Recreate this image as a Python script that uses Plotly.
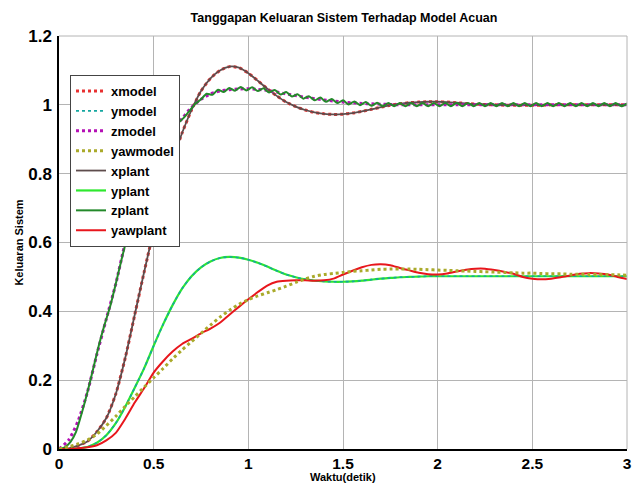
import plotly.graph_objects as go

# time grids
t = [round(0.05 * i, 2) for i in range(61)]
tz = [round(0.03 * i, 2) for i in range(101)]

xplant = [0, 0.002, 0.01, 0.022, 0.05, 0.09, 0.16, 0.265, 0.39, 0.515,
          0.635, 0.745, 0.84, 0.918, 0.985, 1.04, 1.077, 1.1, 1.111, 1.108,
          1.092, 1.07, 1.047, 1.026, 1.008, 0.995, 0.985, 0.978, 0.974, 0.972,
          0.973, 0.976, 0.981, 0.987, 0.993, 0.999, 1.003, 1.006, 1.008, 1.009,
          1.009, 1.008, 1.006, 1.004, 1.002, 1.001, 1.0, 0.999, 0.999, 0.999,
          0.999, 0.999, 1.0, 1.0, 1.0, 1.0, 1.0, 1.0, 1.0, 1.0, 1.0]
xmodel = list(xplant)

yplant = [0, 0, 0.002, 0.006, 0.018, 0.04, 0.075, 0.123, 0.178, 0.235,
          0.3, 0.362, 0.418, 0.466, 0.502, 0.528, 0.545, 0.555, 0.558, 0.556,
          0.55, 0.541, 0.53, 0.518, 0.507, 0.499, 0.493, 0.489, 0.487, 0.486,
          0.486, 0.487, 0.489, 0.492, 0.495, 0.497, 0.499, 0.5, 0.501, 0.502,
          0.502, 0.502, 0.502, 0.502, 0.502, 0.502, 0.502, 0.502, 0.502, 0.502,
          0.502, 0.502, 0.502, 0.502, 0.502, 0.502, 0.502, 0.502, 0.502, 0.502, 0.502]
ymodel = list(yplant)

zplant = [0, 0.005, 0.02, 0.05, 0.104, 0.165, 0.232, 0.3, 0.36, 0.414,
          0.48, 0.55, 0.615, 0.675, 0.73, 0.778, 0.818, 0.853, 0.883, 0.908,
          0.93, 0.948, 0.963, 0.983, 1.003, 1.016, 1.032, 1.029, 1.044, 1.037,
          1.049, 1.041, 1.052, 1.042, 1.051, 1.040, 1.048, 1.036, 1.043, 1.030,
          1.037, 1.024, 1.031, 1.018, 1.025, 1.013, 1.021, 1.009, 1.017, 1.005,
          1.013, 1.001, 1.010, 0.999, 1.008, 0.997, 1.006, 0.996, 1.005, 0.996,
          1.005, 0.996, 1.005, 0.996, 1.005, 0.996, 1.005, 0.996, 1.005, 0.996,
          1.005, 0.996, 1.005, 0.996, 1.005, 0.996, 1.005, 0.996, 1.005, 0.996,
          1.005, 0.996, 1.005, 0.996, 1.005, 0.996, 1.005, 0.996, 1.005, 0.996,
          1.005, 0.996, 1.005, 0.996, 1.005, 0.996, 1.005, 0.996, 1.005, 0.996, 1.004]
zmodel = [0, 0.025, 0.08, 0.165, 0.275, 0.378, 0.48, 0.6, 0.7, 0.78,
          0.845, 0.895, 0.93, 0.96, 0.993, 1.016, 1.032, 1.04, 1.044, 1.046,
          1.047, 1.045, 1.042, 1.037, 1.032, 1.027, 1.022, 1.018, 1.014, 1.011,
          1.008, 1.006, 1.004, 1.003, 1.002, 1.001, 1.0, 1.0, 1.0, 1.0,
          1.0, 1.0, 1.0, 1.0, 1.0, 1.0, 1.0, 1.0, 1.0, 1.0,
          1.0, 1.0, 1.0, 1.0, 1.0, 1.0, 1.0, 1.0, 1.0, 1.0, 1.0]

yawplant = [0, 0, 0.002, 0.005, 0.011, 0.025, 0.047, 0.088, 0.135, 0.177,
            0.222, 0.255, 0.283, 0.305, 0.32, 0.336, 0.35, 0.367, 0.39, 0.413,
            0.435, 0.456, 0.475, 0.486, 0.489, 0.49, 0.49, 0.489, 0.49, 0.495,
            0.507, 0.518, 0.528, 0.535, 0.537, 0.534, 0.526, 0.519, 0.512, 0.508,
            0.507, 0.51, 0.516, 0.521, 0.524, 0.524, 0.52, 0.515, 0.509, 0.5,
            0.495, 0.493, 0.495, 0.499, 0.504, 0.509, 0.511, 0.51, 0.507, 0.5, 0.494]
yawmodel = [0, 0.006, 0.015, 0.026, 0.043, 0.068, 0.095, 0.124, 0.152, 0.18,
            0.207, 0.234, 0.262, 0.288, 0.312, 0.336, 0.36, 0.383, 0.403, 0.42,
            0.434, 0.445, 0.454, 0.463, 0.473, 0.484, 0.494, 0.502, 0.507, 0.51,
            0.513, 0.516, 0.518, 0.52, 0.522, 0.523, 0.523, 0.523, 0.522, 0.521,
            0.52, 0.519, 0.518, 0.517, 0.516, 0.515, 0.514, 0.513, 0.512, 0.511,
            0.511, 0.51, 0.509, 0.509, 0.508, 0.508, 0.507, 0.507, 0.506, 0.506, 0.505]

x_ticks = [0, 0.5, 1, 1.5, 2, 2.5, 3]
x_ticklabels = ["0", "0.5", "1", "1.5", "2", "2.5", "3"]
y_ticks = [0, 0.2, 0.4, 0.6, 0.8, 1.0, 1.2]
y_ticklabels = ["0", "0.2", "0.4", "0.6", "0.8", "1", "1.2"]

FONT = "Liberation Sans, Arial, sans-serif"
OFF = 8  # default page body margin in the browser
W, H = 640 - OFF, 483 - OFF
PLOT_H = 413

fig = go.Figure()

def plant(name, xs, ys, col, rank, width=2):
    return go.Scatter(x=xs, y=ys, name=name, mode="lines", legendrank=rank,
                      line=dict(color=col, width=width, shape="spline", smoothing=0.6))

def model(name, xs, ys, col, rank, width=2.5):
    return go.Scatter(x=xs, y=ys, name=name, mode="lines", legendrank=rank,
                      line=dict(color=col, width=width, dash="dot", shape="spline", smoothing=0.6))

# drawing order (legend order set by legendrank)
fig.add_trace(model("xmodel", t, xmodel, "#e83030", 1, 3))
fig.add_trace(plant("xplant", t, xplant, "#5e4c4c", 5, 1.8))
fig.add_trace(model("zmodel", t, zmodel, "#b510b5", 3, 3))
fig.add_trace(plant("zplant", tz, zplant, "#23892a", 7, 2))
fig.add_trace(plant("yplant", t, yplant, "#2ee82e", 6, 2.2))
fig.add_trace(model("ymodel", t, ymodel, "#14a7a0", 2, 1.6))
fig.add_trace(plant("yawplant", t, yawplant, "#e8161c", 8, 2))
fig.add_trace(model("yawmodel", t, yawmodel, "#aaaa2a", 4, 3))

fig.update_layout(
    width=W, height=H,
    margin=dict(l=59 - OFF, r=13, t=36 - OFF, b=34, autoexpand=False),
    paper_bgcolor="white", plot_bgcolor="white",
    title=dict(text="Tanggapan Keluaran Sistem Terhadap Model Acuan",
               x=(344 - OFF) / W, xanchor="center", y=1 - (18 - OFF) / H, yanchor="middle",
               xref="container", yref="container",
               font=dict(family=FONT, size=12.5, color="black", weight="bold")),
    font=dict(family=FONT, color="black"),
    legend=dict(x=(70 - 59) / 568, y=(449 - 75) / 413, xanchor="left", yanchor="top",
                bgcolor="white", bordercolor="#444", borderwidth=1,
                font=dict(family=FONT, size=13, color="black", weight="bold"),
                itemwidth=30, tracegroupgap=0),
    showlegend=True,
)
fig.update_xaxes(range=[0, 3], tickvals=x_ticks, ticktext=x_ticklabels, automargin=False,
                 showgrid=True, gridcolor="#b4b4b4", gridwidth=1,
                 showline=True, linecolor="black", linewidth=1.5, zeroline=False,
                 ticks="", ticklen=0,
                 tickfont=dict(family=FONT, size=15.5, color="black", weight="bold"))
fig.update_yaxes(range=[0, 1.2], tickvals=y_ticks, ticktext=y_ticklabels, automargin=False,
                 showgrid=True, gridcolor="#b4b4b4", gridwidth=1,
                 showline=True, linecolor="black", linewidth=1.5, zeroline=False,
                 ticks="", ticklen=0, ticklabelstandoff=2,
                 tickfont=dict(family=FONT, size=17, color="black", weight="bold"),
                 title=dict(text="Keluaran Sistem", standoff=2,
                            font=dict(family=FONT, size=11, color="black", weight="bold")))
# x-axis title placed just under the tick labels
fig.add_annotation(text="Waktu(detik)", xref="paper", yref="paper",
                   x=0.5, y=-(477 - 449) / PLOT_H, xanchor="center", yanchor="middle",
                   showarrow=False,
                   font=dict(family=FONT, size=11, color="black", weight="bold"))
# light frame on top and right like the original
fig.add_shape(type="line", xref="paper", yref="paper", x0=0, x1=1, y0=1, y1=1,
              line=dict(color="#b4b4b4", width=1))
fig.add_shape(type="line", xref="paper", yref="paper", x0=1, x1=1, y0=0, y1=1,
              line=dict(color="#b4b4b4", width=1))

fig.write_html("out.html")
